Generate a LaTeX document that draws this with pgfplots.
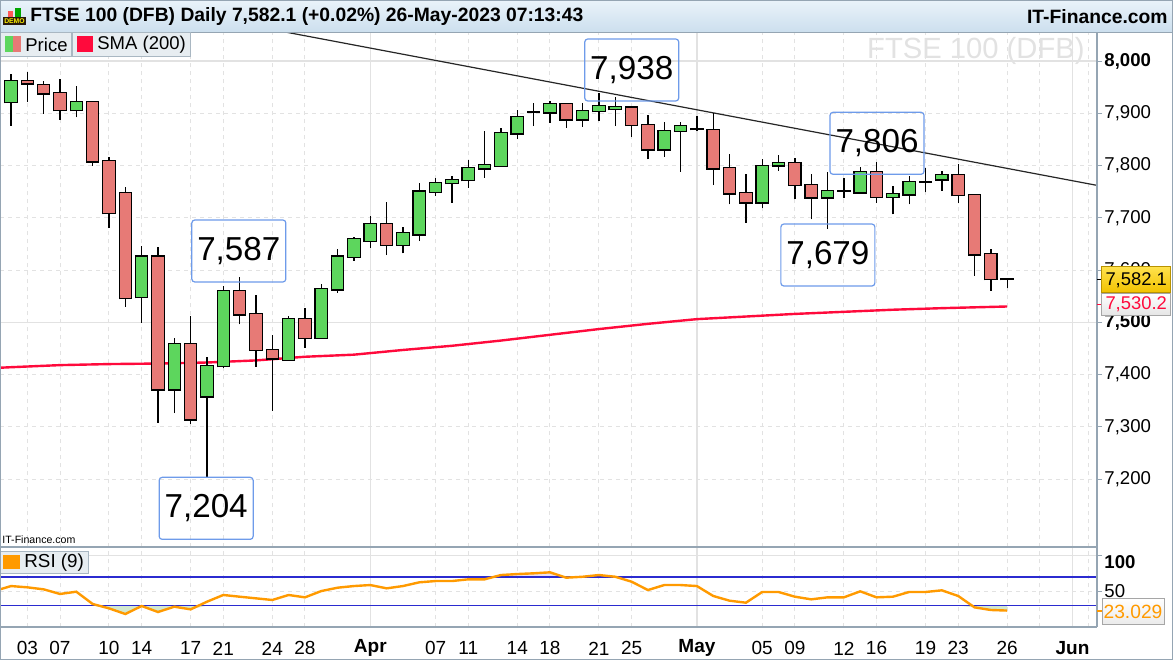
\documentclass[border=0pt]{standalone}
\usepackage{pgfplots}
\pgfplotsset{compat=1.18}
\usepackage{pgfplotstable}
\usepackage{fontspec}
\setmainfont{Liberation Sans}

\definecolor{gbody}{HTML}{5DD65D}
\definecolor{rbody}{HTML}{E77A76}
\definecolor{smared}{HTML}{FF0A3C}
\definecolor{rsiorange}{HTML}{FF9A00}
\definecolor{rsiblue}{HTML}{2B2BD0}
\definecolor{gridc}{HTML}{E2E2E2}
\definecolor{framec}{HTML}{95A5B3}
\definecolor{titletop}{HTML}{EAF3FA}
\definecolor{titlebot}{HTML}{CCDFEE}
\definecolor{legfill}{HTML}{E7EDF1}
\definecolor{legdraw}{HTML}{A9B7C2}
\definecolor{annot}{HTML}{6E9BEA}
\definecolor{oversold}{HTML}{D2E8D0}
\definecolor{overbought}{HTML}{E9E0F0}
\definecolor{goldtop}{HTML}{FFE24D}
\definecolor{goldbot}{HTML}{F2C200}
\definecolor{golddraw}{HTML}{B89200}
\definecolor{wmark}{HTML}{E2E2E2}

\newcommand\fsz[1]{\fontsize{#1}{#1}\selectfont}

% green candles: index, open, high, low, close
\pgfplotstableread{
i o h l c
0 7921 7975 7876 7961.7
4 7906 7952 7892 7921
8 7548 7646 7499 7625.5
10 7371.6 7469 7326 7457.8
12 7358 7434 7204 7416.3
13 7416 7569.4 7412 7560
17 7428 7512 7426 7505.6
19 7470.5 7573 7470 7563
20 7563 7639.6 7556.6 7625.5
21 7625.5 7662.6 7617.8 7658.8
22 7655.5 7703.4 7642.7 7687.5
24 7648 7681.7 7631.8 7670
25 7668.3 7766 7655.5 7750
26 7750 7776.7 7741.6 7767
27 7766 7780 7728.8 7772
28 7772 7810.5 7757.6 7794.6
29 7794.6 7866 7776.7 7800.4
30 7800 7871 7798 7861.6
31 7861.6 7906 7850.7 7893.4
33 7901.8 7923.4 7882 7917
35 7888.4 7920 7874 7904
36 7904 7938 7885 7914
37 7907.6 7931.7 7875.6 7911.4
40 7831 7884 7817 7866
41 7866 7884 7788 7875.6
46 7729.6 7811.8 7718 7799
47 7800.4 7820 7789.5 7804.2
50 7739 7788 7679 7751
52 7748.7 7796.6 7748.7 7787.6
54 7740 7761.4 7706.7 7744.8
55 7744.8 7780 7725.7 7767.8
57 7773.6 7789.5 7751.8 7781
}\gcand

% red candles
\pgfplotstableread{
i o h l c
1 7962 7979 7922 7957
2 7953.5 7962 7899 7938
3 7938 7965 7888 7906
5 7921 7923.4 7800 7808
6 7808 7816 7680 7709
7 7747 7758 7530 7546
9 7625.5 7645 7308 7371.6
11 7457.8 7512 7306 7314
14 7560 7587 7496 7515
15 7515 7552 7415 7447
16 7447 7475.6 7331 7431
18 7505.6 7528 7451 7470.5
23 7687.5 7730.7 7628.7 7647.8
34 7917 7920 7872 7888.4
38 7911 7914 7855 7877.5
39 7877.5 7896.7 7811.8 7831
43 7868 7901 7762.7 7794.6
44 7794.6 7822 7725.7 7746.8
45 7746.8 7783.7 7690.5 7729.6
48 7804 7813.8 7735.3 7762.7
49 7762 7783.7 7697 7739
53 7787.6 7806 7728.8 7740
58 7781 7803 7727.7 7743
59 7743 7745.5 7589 7630
60 7630 7639.6 7560.4 7582.3
}\rcand

% doji candles
\pgfplotstableread{
i o h l c
32 7901.8 7920 7875.6 7901.8
42 7869.3 7894.7 7866 7869.3
51 7751.8 7775.5 7737 7751.8
56 7769 7794.6 7748.7 7769
61 7582.1 7582.5 7565 7582.1
}\dcand

% SMA (200)
\pgfplotstableread{
i v
-1 7412.5
0 7414
3 7418
6 7420
9 7421
12 7423
15 7427
18 7434
21 7438
24 7447
27 7455
30 7465
33 7476
36 7487
39 7497
42 7506
45 7511
48 7516
51 7520
54 7524
57 7527
61 7530.2
}\sma

% RSI (9)
\pgfplotstableread{
i v
-1 50.4
0 57.3
1 55.5
2 52.7
3 46.2
4 49.4
5 32.2
6 26.1
7 18.2
8 29.4
9 21
10 28.4
11 24.7
12 35.4
13 44.8
14 42.4
15 40.1
16 37.8
17 44.8
18 41.5
19 50.3
20 55
21 57.3
22 58.7
23 54.1
24 57.3
25 62.5
26 64.3
27 64.3
28 66.7
29 66.7
30 72.7
31 74.1
32 75.1
33 76.5
34 69
35 70.3
36 72.7
37 70.3
38 63.4
39 51.7
40 58.7
41 58.7
42 57.3
43 43.4
44 36.8
45 34
46 49
47 49
48 42.4
49 38.7
50 41.5
51 41.5
52 49.9
53 41.5
54 42.4
55 49
56 49
57 51.3
58 43.4
59 27.5
60 23.8
61 23.0
}\rsi

\pgfplotsset{
  chartbase/.style={
    scale only axis, width=548.5pt,
    xmin=-0.674, xmax=66.5,
    axis line style={draw=none},
    xtick={1,3,6,8,11,13,16,18,26,28,31,33,36,38,46,48,51,53,56,58,61,63,66},
    extra x ticks={22,42,65},
    xmajorgrids, ymajorgrids,
    major grid style={draw=gridc, dash pattern=on 2pt off 2pt, line width=0.5pt},
    extra x tick style={major grid style={draw=gridc, solid, line width=0.6pt}},
    xtick style={draw=none},
    ytick pos=right, yticklabel pos=right,
    ytick style={draw=framec, line width=0.5pt},
    major tick length=2.5pt, tick align=outside,
    yticklabel style={font=\fsz{9.3}, anchor=west, inner sep=0pt, xshift=1pt},
  },
  wick/.style={draw=none, mark=none, forget plot,
    error bars/.cd, y dir=plus, y explicit, error mark=none,
    error bar style={line width=0.65pt, draw=black}},
  bodyout/.style={draw=none, mark=none, forget plot,
    error bars/.cd, y dir=plus, y explicit, error mark=none,
    error bar style={line width=6.8pt, draw=black}},
  bodyin/.style={draw=none, mark=none, forget plot,
    error bars/.cd, y dir=plus, y explicit, error mark=none,
    error bar style={line width=5.6pt, draw=#1}},
}
\tikzset{
  annbox/.style={draw=annot, line width=0.6pt, rounded corners=1.5pt,
    minimum width=47pt, minimum height=31pt, inner sep=0pt, font=\fsz{16.6}},
}

\begin{document}
\begin{tikzpicture}
% background
\fill[white] (0pt,0pt) rectangle (586.5pt,-330pt);
\begin{scope}[x=0.5pt,y=-0.5pt]
\node[anchor=east, font=\fsz{14.6}, text=wmark, inner sep=0pt] at (1085,51) {FTSE 100 (DFB)};
\end{scope}

% ---------------- price panel ----------------
\begin{axis}[chartbase,
  at={(0pt,-16pt)}, anchor=north west, height=257.5pt,
  ymin=7069.9, ymax=8055.5,
  xticklabels={}, extra x tick labels={},
  ytick={7200,7300,7400,7600,7700,7800,7900},
  yticklabels={{7,200},{7,300},{7,400},{7,600},{7,700},{7,800},{7,900}},
  extra y ticks={7500,8000},
  extra y tick labels={{\bfseries 7,500},{\bfseries 8,000}},
  extra y tick style={major grid style={draw=gridc, solid, line width=0.6pt}},
]
% trend line
\addplot[forget plot, draw=black!85, line width=0.6pt] coordinates {(16.47,8057.4) (66.5,7762)};
% SMA 200
\addplot[forget plot, draw=smared, line width=1.2pt] table[x=i, y=v] {\sma};
% wicks
\addplot[wick] table[x=i, y=l, y error plus expr={\thisrow{h}-\thisrow{l}}] {\gcand};
\addplot[wick] table[x=i, y=l, y error plus expr={\thisrow{h}-\thisrow{l}}] {\rcand};
\addplot[wick] table[x=i, y=l, y error plus expr={\thisrow{h}-\thisrow{l}}] {\dcand};
% bodies
\addplot[bodyout] table[x=i, y expr={\thisrow{o}-2.3}, y error plus expr={\thisrow{c}-\thisrow{o}+4.6}] {\gcand};
\addplot[bodyin=gbody] table[x=i, y=o, y error plus expr={\thisrow{c}-\thisrow{o}}] {\gcand};
\addplot[bodyout] table[x=i, y expr={\thisrow{c}-2.3}, y error plus expr={\thisrow{o}-\thisrow{c}+4.6}] {\rcand};
\addplot[bodyin=rbody] table[x=i, y=c, y error plus expr={\thisrow{o}-\thisrow{c}}] {\rcand};
\addplot[bodyout] table[x=i, y expr={\thisrow{o}-2.0}, y error plus expr={4.0}] {\dcand};
% annotations
\node[annbox] at (axis cs:13.95,7636.4) {7,587};
\node[annbox] at (axis cs:38.01,7982.8) {7,938};
\node[annbox] at (axis cs:53.03,7842.5) {7,806};
\node[annbox] at (axis cs:50.02,7628.7) {7,679};
\node[annbox] at (axis cs:11.95,7143.9) {7,204};
\end{axis}

% ---------------- RSI panel ----------------
\begin{axis}[chartbase,
  at={(0pt,-273.5pt)}, anchor=north west, height=40pt,
  ymin=0, ymax=111.9,
  xticklabels={03,07,10,14,17,21,24,28,07,11,14,18,21,25,05,09,12,16,19,23,26,{},{}},
  extra x tick labels={\bfseries Apr,\bfseries May,\bfseries Jun},
  xticklabel style={font=\fsz{9.5}, anchor=center, yshift=-8.2pt},
  ytick={50}, yticklabels={50},
  extra y ticks={100}, extra y tick labels={\bfseries 100},
  extra y tick style={major grid style={draw=gridc, solid, line width=0.6pt},
     yticklabel style={yshift=-3.25pt}},
]
% shaded zones beyond 30 and 70
\addplot[forget plot, fill=oversold, draw=none] table[x=i, y expr={min(\thisrow{v},30)}] {\rsi}
   -- (axis cs:61,30) -- (axis cs:-1,30) -- cycle;
\addplot[forget plot, fill=overbought, draw=none] table[x=i, y expr={max(\thisrow{v},70)}] {\rsi}
   -- (axis cs:61,70) -- (axis cs:-1,70) -- cycle;
\addplot[forget plot, draw=rsiblue, line width=0.6pt] coordinates {(-1,30) (67,30)};
\addplot[forget plot, draw=rsiblue, line width=0.6pt] coordinates {(-1,70) (67,70)};
\addplot[forget plot, draw=rsiorange, line width=1.2pt] table[x=i, y=v] {\rsi};
\end{axis}

% ---------------- overlays ----------------
\begin{scope}[x=0.5pt,y=-0.5pt]
% title bar
\shade[top color=titletop, bottom color=titlebot] (0,0) rectangle (1173,32);
\draw[framec, line width=0.5pt] (0,32) -- (1173,32);
\node[anchor=west, font=\fsz{9.65}\bfseries, inner sep=0pt] at (30,16.5)
  {FTSE 100 (DFB) Daily 7,582.1 (+0.02\%) 26-May-2023 07:13:43};
\node[anchor=east, font=\fsz{9.65}\bfseries, inner sep=0pt] at (1168,16.5) {IT-Finance.com};
% demo icon
\fill[red!65] (8,11) rectangle (13,17);
\fill[green!65!black] (15,8) rectangle (21,17);
\fill[black!80!brown] (3,17) rectangle (26,25);
\node[font=\fsz{3.4}\bfseries, text=yellow, inner sep=0pt] at (14.5,21) {DEMO};
% legends
\filldraw[fill=legfill, draw=legdraw, line width=0.5pt] (0,32) rectangle (71,56);
\fill[gbody] (5,36) rectangle (13,52);
\fill[rbody] (13,36) rectangle (21,52);
\node[anchor=west, font=\fsz{9.25}, inner sep=0pt] at (25,44.5) {Price};
\filldraw[fill=legfill, draw=legdraw, line width=0.5pt] (72,32) rectangle (190,56);
\fill[smared] (77,36) rectangle (93,52);
\node[anchor=west, font=\fsz{9.25}, inner sep=0pt] at (97,44.5) {SMA (200)};
% panel lines
\draw[framec, line width=0.6pt] (1097,32) -- (1097,627);
\draw[framec, line width=0.6pt] (0,547) -- (1097,547);
\draw[framec, line width=0.6pt] (0,627) -- (1097,627);
% small site label
\node[anchor=west, font=\fsz{5.3}, inner sep=0pt] at (2,540) {IT-Finance.com};
% RSI legend
\filldraw[fill=legfill, draw=legdraw, line width=0.5pt] (0,551) rectangle (88,573);
\fill[rsiorange] (3,555) rectangle (20,569);
\node[anchor=west, font=\fsz{9.4}, inner sep=0pt] at (24,562.5) {RSI (9)};
% value boxes
\draw[black, line width=0.6pt] (1097,279.5) -- (1102,279.5);
\draw[smared, line width=0.6pt] (1097,304.5) -- (1102,304.5);
\shade[top color=goldtop, bottom color=goldbot] (1101.7,266.7) rectangle (1170.7,292.3);
\draw[golddraw, line width=0.5pt] (1101.7,266.7) rectangle (1170.7,292.3);
\node[font=\fsz{9.2}, inner sep=0pt] at (1136.2,280) {7,582.1};
\shade[top color=white, bottom color=black!10] (1101.7,293.3) rectangle (1170.7,315);
\draw[black!35, line width=0.5pt] (1101.7,293.3) rectangle (1170.7,315);
\node[font=\fsz{9.2}, text=smared, inner sep=0pt] at (1136.2,304.5) {7,530.2};
\draw[rsiorange, line width=0.6pt] (1097,611) -- (1102,611);
\shade[top color=white, bottom color=black!8] (1102,598.3) rectangle (1164,624.3);
\draw[black!35, line width=0.5pt] (1102,598.3) rectangle (1164,624.3);
\node[font=\fsz{9.6}, text=rsiorange, inner sep=0pt] at (1133,611.5) {23.029};
% outer frame
\draw[framec, line width=0.8pt] (0.4,0.4) rectangle (1172.6,659.6);
\end{scope}
\pgfresetboundingbox
\useasboundingbox (0pt,0pt) rectangle (586.5pt,-330pt);
\end{tikzpicture}
\end{document}
